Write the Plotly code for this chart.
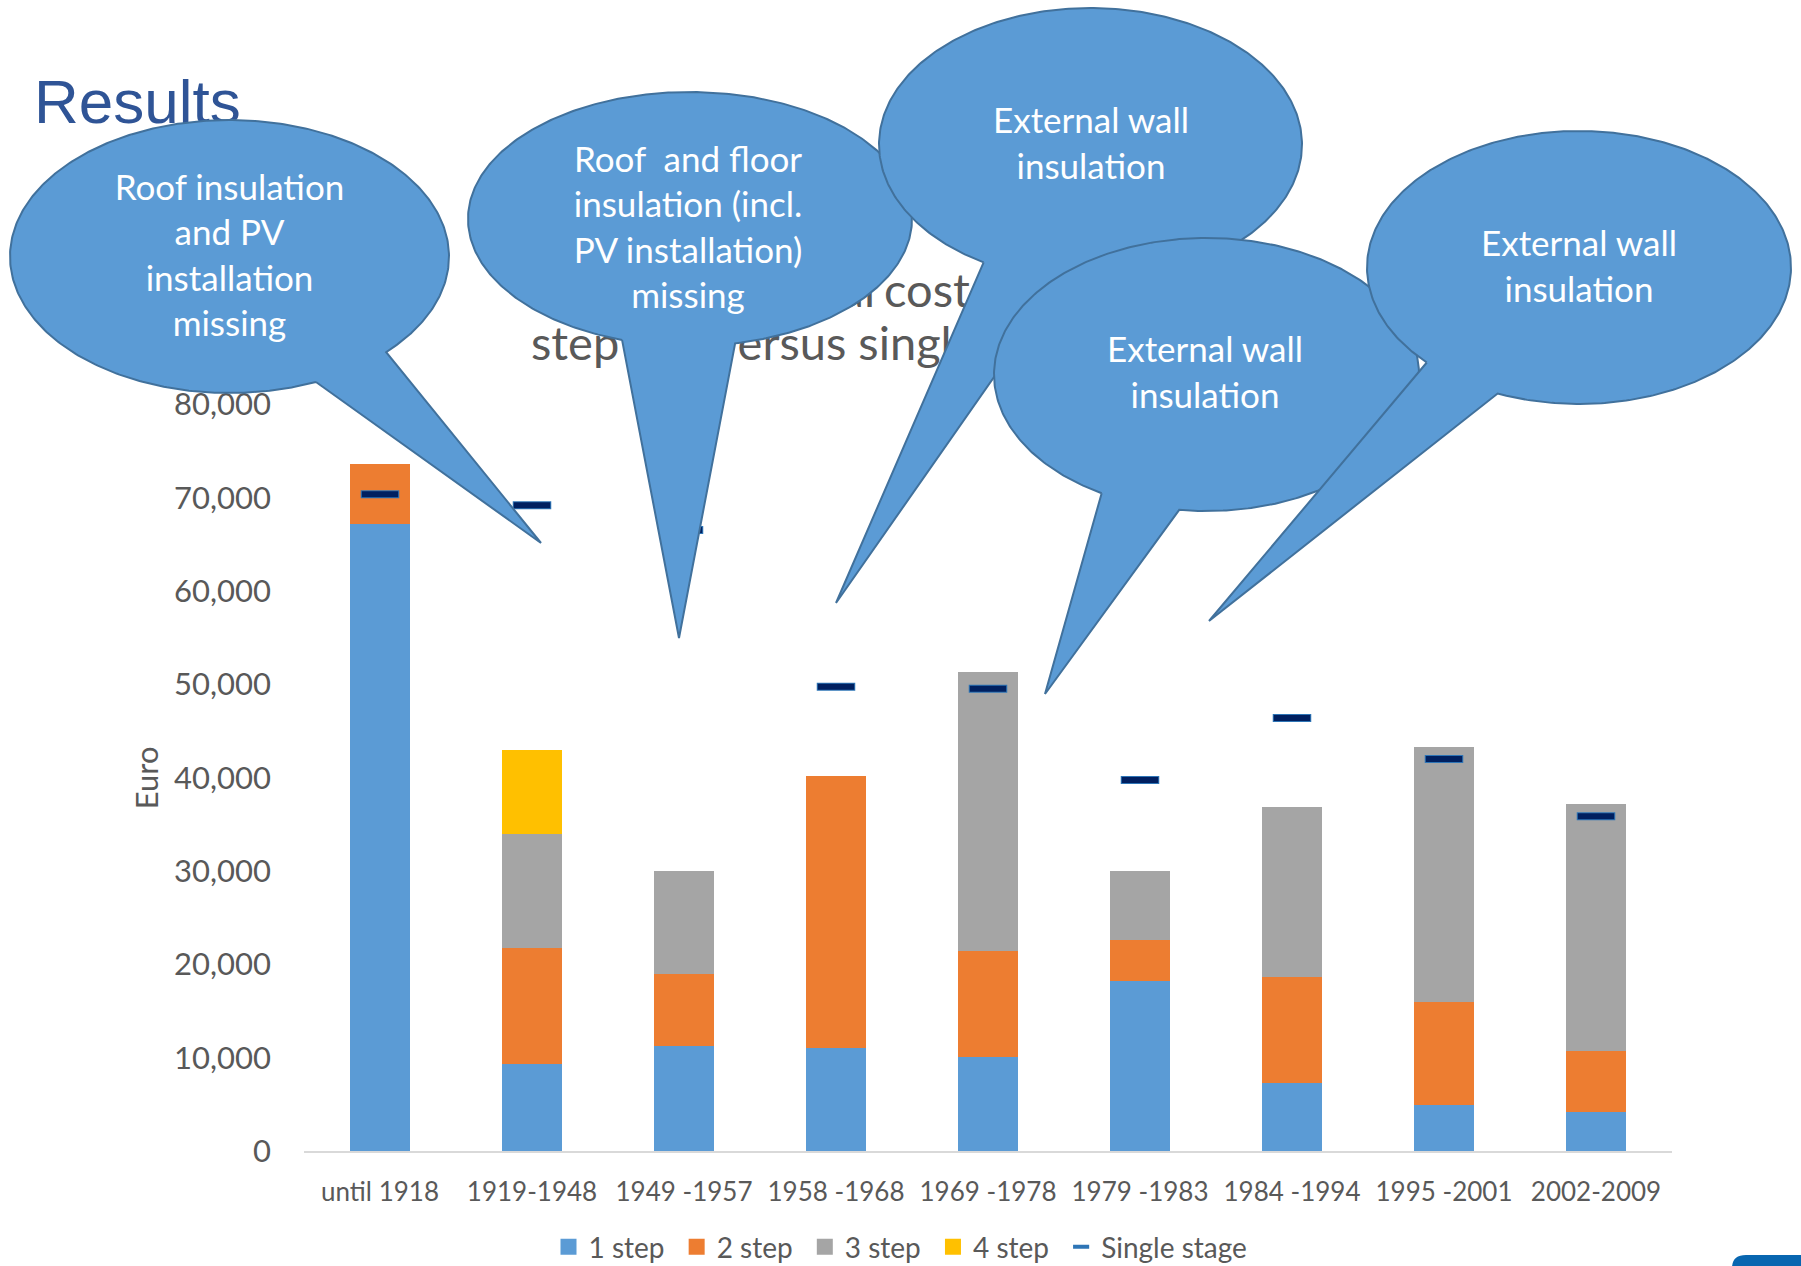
import numpy as np
import plotly.graph_objects as go

# ---------------------------------------------------------------------------
# Data: cost of renovation per building age class (Euro)
# ---------------------------------------------------------------------------
periods = ["until 1918", "1919-1948", "1949 -1957", "1958 -1968", "1969 -1978",
           "1979 -1983", "1984 -1994", "1995 -2001", "2002-2009"]
step_1 = [67170, 9320, 11250, 11070, 10040, 18250, 7250, 4930, 4210]
step_2 = [6460, 12470, 7690, 29120, 11360, 4400, 11360, 11070, 6510]
step_3 = [0, 12190, 11060, 0, 29970, 7350, 18220, 27330, 26470]
step_4 = [0, 9000, 0, 0, 0, 0, 0, 0, 0]
single_stage = [70400, 69200, 66560, 49770, 49550, 39760, 46410, 42010, 35870]

y_ticks = [0, 10000, 20000, 30000, 40000, 50000, 60000, 70000, 80000]

page_title = "Results"
# chart title, two lines; each line split in two runs so the words sit where
# the speech bubbles leave them uncovered
title_line_1 = ("Total", "costs of multi-")
title_line_2 = ("step (MS)", "versus single stage")
bubble_texts = [
    "Roof insulation<br>and PV<br>installation<br>missing",
    "Roof  and floor<br>insulation (incl.<br>PV installation)<br>missing",
    "External wall<br>insulation",
    "External wall<br>insulation",
    "External wall<br>insulation",
]

# ---------------------------------------------------------------------------
# Page geometry (pixels) and styles
# ---------------------------------------------------------------------------
W, H = 1801, 1266
PLOT_LEFT, PLOT_RIGHT = 304, 1672
PLOT_TOP, PLOT_BOTTOM = 404.6, 1151

BODY_FONT = "Lato"
GREY_TEXT = "#595959"
COLORS = {"1": "#5B9BD5", "2": "#ED7D31", "3": "#A5A5A5", "4": "#FFC000"}
NAVY = "#002060"
MARKER_EDGE = "#2E75B6"
BUBBLE_FILL = "#5B9BD5"
BUBBLE_EDGE = "#41719C"
LEGEND_PAD = "\u00a0"

# speech bubbles: ellipse centre, radii, the two points where the wedge leaves
# the ellipse, wedge tip, and text anchor
bubbles = [
    dict(c=(229.5, 256.5), r=(219.5, 136.5), a=(316, 382), b=(386, 352), tip=(541, 543), t=(229.5, 259)),
    dict(c=(690.0, 219.0), r=(222.0, 127.0), a=(622, 340), b=(735, 343), tip=(679, 638), t=(688, 231)),
    dict(c=(1090.5, 144.5), r=(211.5, 136.5), a=(983, 263), b=(1062, 280), tip=(836, 603), t=(1091, 147)),
    dict(c=(1206.5, 374.5), r=(212.5, 136.5), a=(1101, 494), b=(1179, 511), tip=(1045, 694), t=(1205, 376)),
    dict(c=(1579.0, 267.5), r=(212.0, 136.5), a=(1426, 363), b=(1498, 393), tip=(1209, 621), t=(1579, 270)),
]


def bubble_outline(c, r, a, b, tip, n=400):
    """Closed outline of an ellipse with a wedge leaving it between a and b."""
    cx, cy = c
    rx, ry = r
    ta = np.arctan2((a[1] - cy) / ry, (a[0] - cx) / rx)
    tb = np.arctan2((b[1] - cy) / ry, (b[0] - cx) / rx)
    gap = (tb - ta) % (2 * np.pi)
    if gap < np.pi:
        start, length = tb, 2 * np.pi - gap
    else:
        start, length = ta, gap
    t = np.linspace(start, start + length, n)
    xs = list(cx + rx * np.cos(t)) + [tip[0], cx + rx * np.cos(start)]
    ys = list(cy + ry * np.sin(t)) + [tip[1], cy + ry * np.sin(start)]
    return xs, ys


fig = go.Figure()

# stacked bars (legend entries are drawn by the square-marker keys below)
for name, vals, key in [("1 step", step_1, "1"), ("2 step", step_2, "2"),
                        ("3 step", step_3, "3"), ("4 step", step_4, "4")]:
    fig.add_trace(go.Bar(
        x=periods, y=vals, name=name, legendgroup=name, showlegend=False,
        marker=dict(color=COLORS[key], line=dict(width=0)),
        hoverinfo="skip",
    ))

# single stage markers: light edge underneath, navy dash on top
fig.add_trace(go.Scatter(
    x=periods, y=single_stage, name="Single stage", mode="markers",
    legendgroup="single", showlegend=False,
    marker=dict(symbol="line-ew", size=27.5, color=MARKER_EDGE,
                line=dict(width=8, color=MARKER_EDGE)),
    hoverinfo="skip", cliponaxis=False,
))
fig.add_trace(go.Scatter(
    x=periods, y=single_stage, name="Single stage", mode="markers",
    legendgroup="single", showlegend=False,
    marker=dict(symbol="line-ew", size=26, color=NAVY,
                line=dict(width=6, color=NAVY)),
    hoverinfo="skip", cliponaxis=False,
))

# legend keys
for name, key in [("1 step", "1"), ("2 step", "2"), ("3 step", "3"), ("4 step", "4")]:
    fig.add_trace(go.Scatter(
        x=[None], y=[None], mode="markers", name=name + LEGEND_PAD, legendgroup=name,
        marker=dict(symbol="square", size=16, color=COLORS[key], line=dict(width=0)),
        hoverinfo="skip",
    ))
fig.add_trace(go.Scatter(
    x=[None], y=[None], mode="markers", name="Single stage", legendgroup="single",
    marker=dict(symbol="line-ew", size=11.5, color=MARKER_EDGE,
                line=dict(width=4, color=MARKER_EDGE)),
    hoverinfo="skip",
))

# overlay layer in page pixels: slide title, chart title, speech bubbles
overlay = dict(xaxis="x2", yaxis="y2", showlegend=False, hoverinfo="skip")
title_font = dict(family=BODY_FONT, size=47, color=GREY_TEXT)

fig.add_trace(go.Scatter(
    x=[34], y=[107], mode="text", text=[page_title], textposition="middle right",
    textfont=dict(family="Liberation Sans", size=62, color="#2F5496"), **overlay,
))
# run ending at the anchor
fig.add_trace(go.Scatter(
    x=[875], y=[295], mode="text", text=[title_line_1[0]],
    textposition="middle left", textfont=title_font, **overlay,
))
# runs starting at the anchor
fig.add_trace(go.Scatter(
    x=[884, 531, 714], y=[295, 348, 348], mode="text",
    text=[title_line_1[1], title_line_2[0], title_line_2[1]],
    textposition="middle right", textfont=title_font, **overlay,
))

for spec, label in zip(bubbles, bubble_texts):
    xs, ys = bubble_outline(spec["c"], spec["r"], spec["a"], spec["b"], spec["tip"])
    fig.add_trace(go.Scatter(
        x=xs, y=ys, mode="lines", fill="toself", fillcolor=BUBBLE_FILL,
        line=dict(color=BUBBLE_EDGE, width=2), **overlay,
    ))
    fig.add_trace(go.Scatter(
        x=[spec["t"][0]], y=[spec["t"][1]], mode="text", text=[label],
        textposition="middle center",
        textfont=dict(family=BODY_FONT, size=35, color="white"), **overlay,
    ))

fig.update_layout(
    width=W, height=H,
    margin=dict(l=0, r=0, t=0, b=0, autoexpand=False),
    paper_bgcolor="white", plot_bgcolor="rgba(0,0,0,0)",
    barmode="stack", bargap=0.605, hovermode=False,
    xaxis=dict(
        domain=[PLOT_LEFT / W, PLOT_RIGHT / W], anchor="y",
        range=[-0.5, len(periods) - 0.5], automargin=False,
        showline=True, linecolor="#D9D9D9", linewidth=1.5,
        showgrid=False, zeroline=False, ticks="",
        tickfont=dict(family=BODY_FONT, size=26, color=GREY_TEXT),
        ticklabelstandoff=17, fixedrange=True,
    ),
    yaxis=dict(
        domain=[1 - PLOT_BOTTOM / H, 1 - PLOT_TOP / H], anchor="x",
        range=[0, 80000], tickvals=y_ticks, tickformat=",d", automargin=False,
        showgrid=False, zeroline=False, showline=False, ticks="",
        tickfont=dict(family=BODY_FONT, size=31, color=GREY_TEXT),
        ticklabelstandoff=32, fixedrange=True,
        title=dict(text="Euro", standoff=6,
                   font=dict(family=BODY_FONT, size=31, color=GREY_TEXT)),
    ),
    xaxis2=dict(domain=[0, 1], range=[0, W], visible=False, anchor="y2",
                fixedrange=True, automargin=False),
    yaxis2=dict(domain=[0, 1], range=[H, 0], visible=False, anchor="x2",
                fixedrange=True, automargin=False),
    legend=dict(
        orientation="h", x=0.5, xanchor="center", y=1 - 1247 / H, yanchor="middle",
        font=dict(family=BODY_FONT, size=28, color=GREY_TEXT),
        traceorder="normal", bgcolor="rgba(0,0,0,0)", itemsizing="trace",
    ),
    shapes=[dict(
        type="path", xref="x2", yref="y2", layer="above",
        path="M1732,1266 L1732,1268 Q1732,1255 1746,1255 L1801,1255 L1801,1266 Z",
        fillcolor="#0866B0", line=dict(width=0),
    )],
)

fig.write_html("out.html")
